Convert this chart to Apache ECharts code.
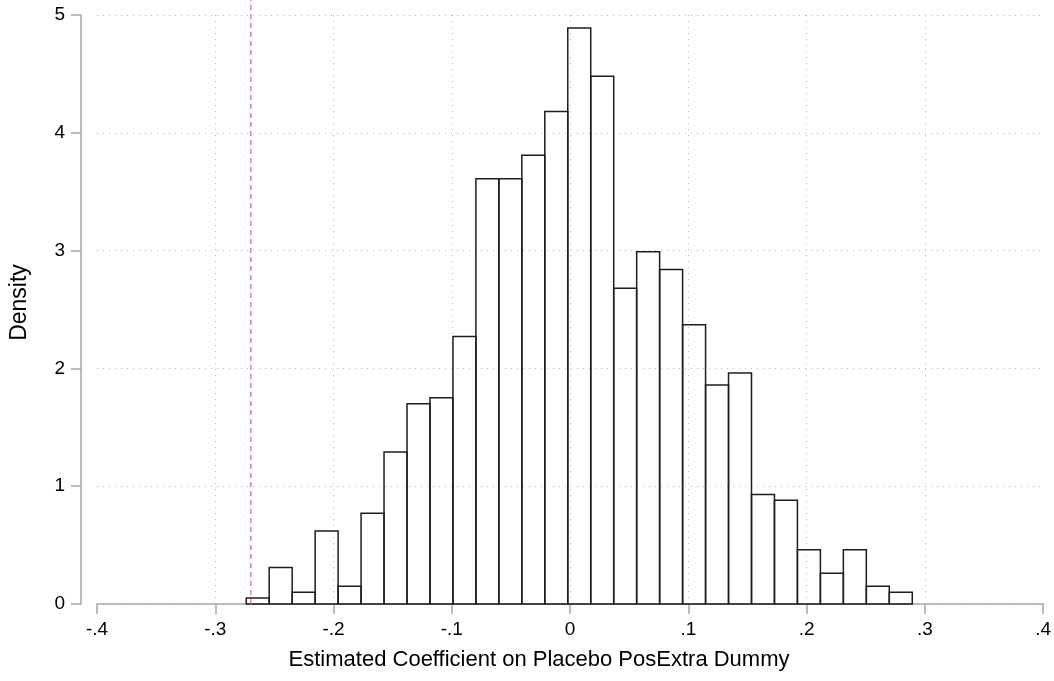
<!DOCTYPE html>
<html>
<head>
<meta charset="utf-8">
<title>Placebo histogram</title>
<script src="https://cdn.jsdelivr.net/npm/echarts@6/dist/echarts.min.js"></script>
<style>
html, body { margin: 0; padding: 0; background: #fff; }
#hist { width: 1054px; height: 681px; }
</style>
</head>
<body>
<div id="hist"></div>
<script>
// histogram bins (1000 placebo draws)
var binStart = -0.2738;
var binWidth = 0.01942;
var density = [0.05, 0.31, 0.10, 0.62, 0.15, 0.77, 1.29, 1.70, 1.75, 2.27,
               3.61, 3.61, 3.81, 4.18, 4.89, 4.48, 2.68, 2.99, 2.84, 2.37,
               1.86, 1.96, 0.93, 0.88, 0.46, 0.26, 0.46, 0.15, 0.10];
var actualCoef = -0.27;   // dashed line
var xTicks = [-0.4, -0.3, -0.2, -0.1, 0, 0.1, 0.2, 0.3, 0.4];
var yTicks = [0, 1, 2, 3, 4, 5];

(function(){
    var chart = echarts.init(document.getElementById("hist"));
    var font = '"Liberation Sans", Arial, sans-serif';

    var bins = [];
    for (var i = 0; i < density.length; i++) {
        var lo = binStart + i * binWidth;
        bins.push([lo, lo + binWidth, density[i]]);
    }

    function fmt(v) {
        var s = (Math.round(v * 10) / 10).toString();
        return s.replace('0.', '.');
    }

    var dotted = { color: '#bdbdbd', width: 1, type: [1, 5] };
    var axisCol = { color: '#a8a8a8', width: 1.5 };

    option = {
        animation: false,
        backgroundColor: '#fff',
        grid: { left: 95, right: 10, top: 15, bottom: 77 },
        xAxis: {
            type: 'value',
            min: xTicks[0],
            max: xTicks[xTicks.length - 1],
            interval: 0.1,
            name: 'Estimated Coefficient on Placebo PosExtra Dummy',
            nameLocation: 'middle',
            nameGap: 45,
            nameTextStyle: { fontFamily: font, fontSize: 22, color: '#000', padding: [0, 62, 0, 0] },
            axisLine: { show: true, onZero: false, lineStyle: axisCol },
            axisTick: { show: true, length: 10, lineStyle: axisCol },
            axisLabel: { fontFamily: font, fontSize: 19, color: '#000', margin: 16, formatter: fmt },
            splitLine: { show: true, showMinLine: false, showMaxLine: false, lineStyle: dotted }
        },
        yAxis: {
            type: 'value',
            min: yTicks[0],
            max: yTicks[yTicks.length - 1],
            interval: 1,
            offset: 16,
            name: 'Density',
            nameLocation: 'middle',
            nameGap: 50,
            nameTextStyle: { fontFamily: font, fontSize: 23, color: '#000', padding: [0, 0, 0, 14] },
            axisLine: { show: true, onZero: false, lineStyle: axisCol },
            axisTick: { show: true, length: 10, lineStyle: axisCol },
            axisLabel: { fontFamily: font, fontSize: 19, color: '#000', margin: 16 },
            splitLine: { show: true, lineStyle: dotted }
        },
        series: [
            {
                type: 'custom',
                data: bins,
                encode: { x: [0, 1], y: 2 },
                renderItem: function(params, api){
                    var p0 = api.coord([api.value(0), api.value(2)]);
                    var p1 = api.coord([api.value(1), 0]);
                    return {
                        type: 'rect',
                        shape: { x: p0[0], y: p0[1], width: p1[0] - p0[0], height: p1[1] - p0[1] },
                        style: { fill: 'none', stroke: '#1e1e1e', lineWidth: 1.5 }
                    };
                }
            },
            {
                type: 'line',
                clip: false,
                symbol: 'none',
                data: [[actualCoef, 0], [actualCoef, 5.13]],
                lineStyle: { color: '#d384ad', width: 1.5, type: [5, 4] }
            }
        ]
    };

    chart.setOption(option);
})();
</script>
</body>
</html>
